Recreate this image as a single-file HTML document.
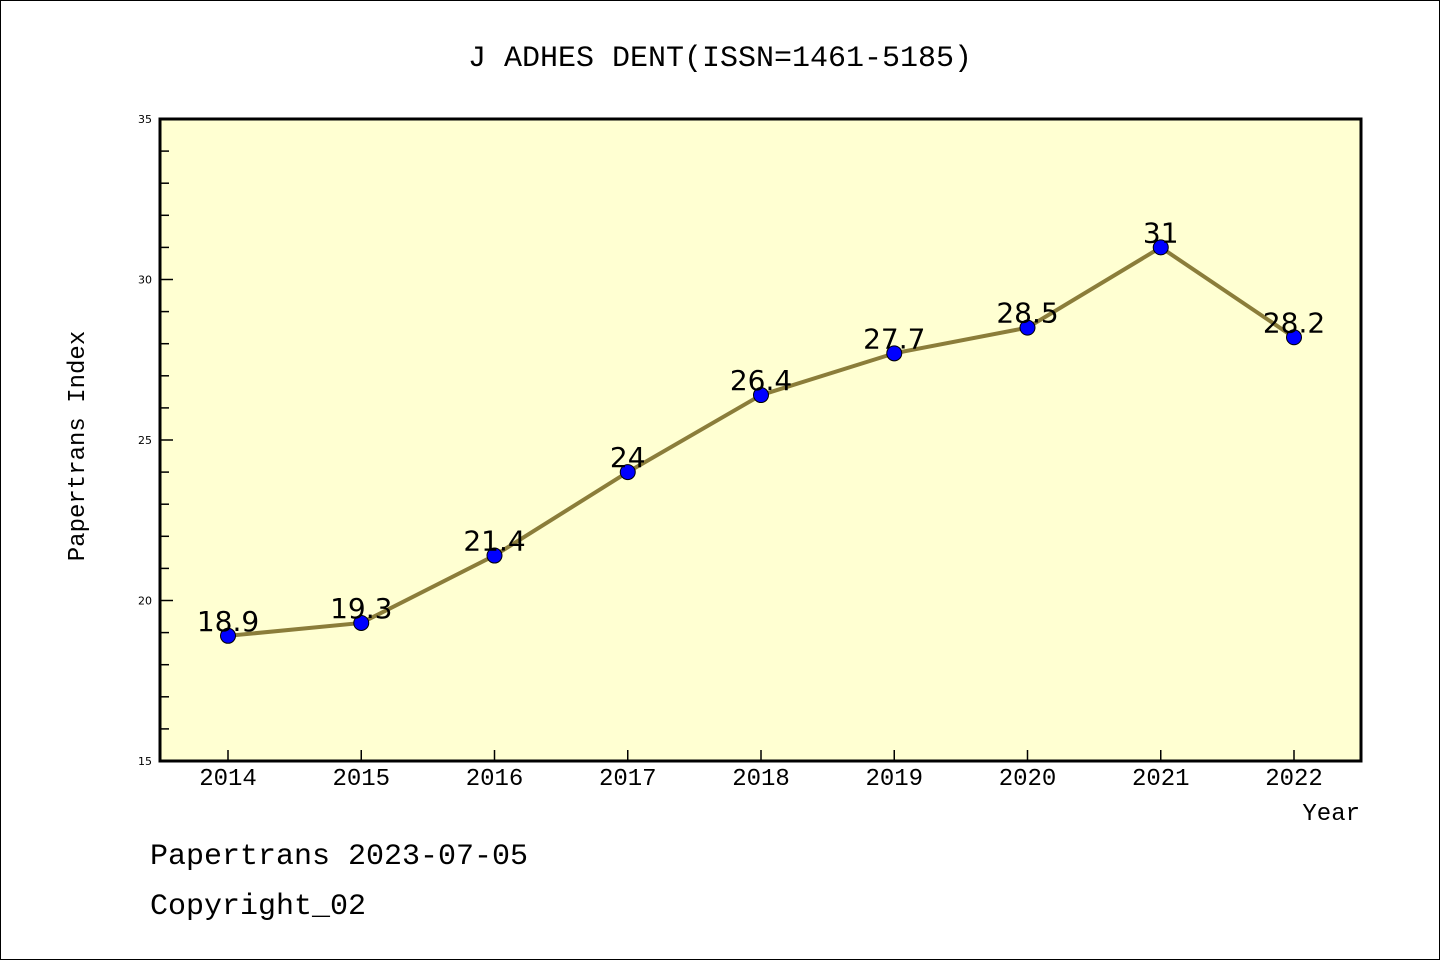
<!DOCTYPE html>
<html><head><meta charset="utf-8"><style>
body{margin:0;background:#fff}
svg{display:block;font-family:"Liberation Mono","DejaVu Sans Mono",monospace}
</style></head><body>
<svg width="1440" height="960">
<rect x="0.5" y="0.5" width="1439" height="959" fill="#fff" stroke="#000"/>
<text x="720" y="66" text-anchor="middle" font-size="30">J ADHES DENT(ISSN=1461-5185)</text>
<rect x="160" y="119" width="1201" height="642" fill="#ffffd2"/>
<g id="ticks"></g>
<g id="series"></g>
<rect x="160" y="119" width="1201" height="642" fill="none" stroke="#000" stroke-width="3"/>
<text transform="translate(84,446) rotate(-90)" text-anchor="middle" font-size="24">Papertrans Index</text>
<text x="1360" y="820" text-anchor="end" font-size="24">Year</text>
<text x="150" y="864" font-size="30">Papertrans 2023-07-05</text>
<text x="150" y="914" font-size="30">Copyright_02</text>
</svg>
<script>
const years=[2014,2015,2016,2017,2018,2019,2020,2021,2022];
const values=[18.9,19.3,21.4,24,26.4,27.7,28.5,31,28.2];
const valueLabels=["18.9","19.3","21.4","24","26.4","27.7","28.5","31","28.2"];
const yTicks=[15,20,25,30,35];
const NS="http://www.w3.org/2000/svg";
const xs=y=>228+(y-2014)*133.25;
const ys=v=>761-(v-15)*32.1;
function mk(t,a,p){const e=document.createElementNS(NS,t);for(const k in a)e.setAttribute(k,a[k]);p.appendChild(e);return e;}
const tg=document.getElementById('ticks'),sg=document.getElementById('series');
for(let v=15;v<=35;v++){
 const major=yTicks.includes(v);
 const l=mk('line',{x1:160,x2:major?173:169,y1:ys(v),y2:ys(v),stroke:'#000','stroke-width':1.5},tg);
 
 
}
yTicks.forEach(v=>{
 const t=mk('text',{x:152,y:ys(v)+4,'text-anchor':'end','font-size':11,'font-family':'DejaVu Sans, sans-serif'},tg);
 t.textContent=v;
 
 
});
years.forEach(y=>{
 const l=mk('line',{x1:xs(y),x2:xs(y),y1:761,y2:750,stroke:'#000','stroke-width':1.5},tg);
 
 
 const t=mk('text',{x:xs(y),y:785,'text-anchor':'middle','font-size':24},tg);
 t.textContent=y;
 
 
});
const pl=mk('polyline',{points:years.map((y,i)=>xs(y)+','+ys(values[i])).join(' '),fill:'none',stroke:'#8b7d3a','stroke-width':4},sg);


years.forEach((y,i)=>{
 const c=mk('circle',{cx:xs(y),cy:ys(values[i]),r:7.5,fill:'#0000ff',stroke:'#000','stroke-width':1},sg);
 
 
 const t=mk('text',{x:xs(y),y:ys(values[i])-5,'text-anchor':'middle','font-size':28,'font-family':'DejaVu Sans, sans-serif'},sg);
 t.textContent=valueLabels[i];
 
 
});
</script>
</body></html>
